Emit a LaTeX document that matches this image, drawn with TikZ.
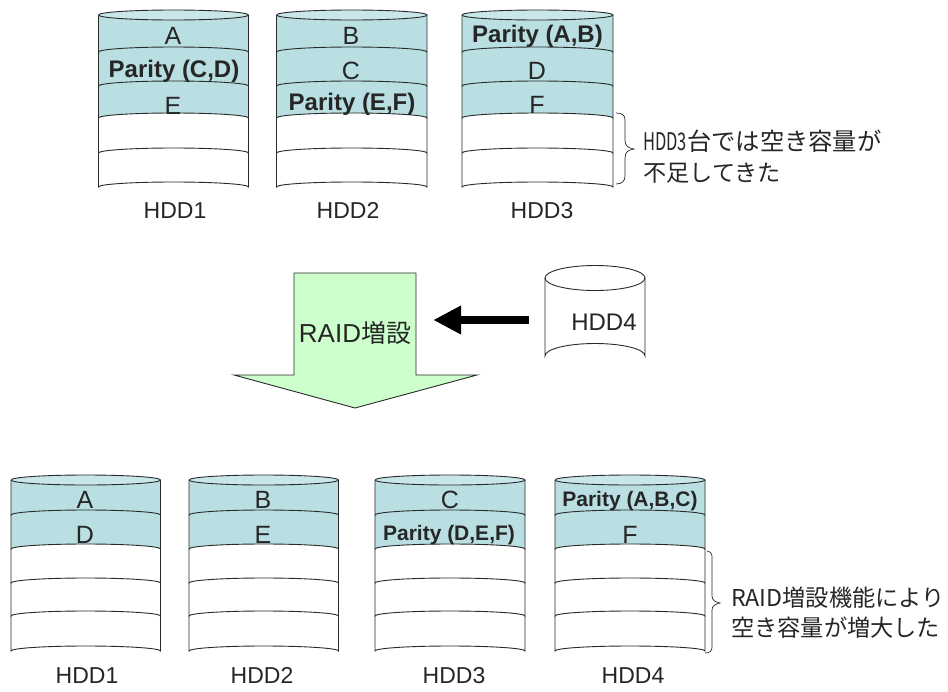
\documentclass[tikz,border=0pt]{standalone}
\usepackage{fontspec}
\setmainfont{Liberation Sans}
\newfontfamily\cjk{Noto Sans CJK JP}
\usetikzlibrary{arrows.meta}
\definecolor{teal1}{HTML}{B9DFE3}
\definecolor{teal2}{HTML}{C9E7EA}
\definecolor{mint}{HTML}{CCFFCC}
\definecolor{edge}{HTML}{2A2A2A}
\newcommand{\fsz}[1]{\fontsize{#1}{#1}\selectfont}
\newcommand{\narrowlat}[2]{\scalebox{#1}[1]{#2}}
% left x, width, top y, number of coloured bands, list of band bottoms
\newcommand{\hddstack}[5]{%
  \pgfmathsetmacro{\rx}{#2/2}
  \fill[white] (#1,#3) rectangle (#1+#2,657);
  \foreach \yb [count=\i] in {#5} {
    \ifnum\i=#4\relax
      \fill[teal1] (#1,#3) -- (#1,\yb) arc[start angle=180,end angle=360,x radius=\rx,y radius=5] -- (#1+#2,#3) -- cycle;
    \fi
  }
  \draw[hddline,fill=teal2] (#1,#3) arc[start angle=180,end angle=-180,x radius=\rx,y radius=5];
  \foreach \yb [remember=\yb as \last (initially #3)] in {#5} {
    \draw[hddline] (#1,\last) -- (#1,\yb) arc[start angle=180,end angle=360,x radius=\rx,y radius=5] -- (#1+#2,\last);
  }
}
\tikzset{
  hddline/.style={draw=edge,line width=0.9pt},
  big/.style={font=\fsz{25},inner sep=0pt,text=black!85},
  par/.style={font=\fsz{21}\bfseries,inner sep=0pt,text=black!85},
  bigpar/.style={font=\fsz{24}\bfseries,inner sep=0pt,text=black!85},
  lab/.style={font=\fsz{23},inner sep=0pt,text=black!85,anchor=base},
  note/.style={font=\cjk\fsz{23.2},inner sep=0pt,anchor=west,text=black!85},
  bracel/.style={draw=edge,line width=0.7pt}
}
\begin{document}
\begin{tikzpicture}[x=1pt,y=-1pt]
\useasboundingbox (0,0) rectangle (948,691);
\fill[white] (0,0) rectangle (948,691);
% top row
\hddstack{98.5}{150}{15}{3}{52,86,118,153,187}
\hddstack{276.5}{150.5}{15}{3}{52,86,118,153,187}
\hddstack{462}{151}{15}{3}{52,86,118,153,187}
\node[big] (a1) at (173,36) {A};
\node[bigpar] (p1) at (174,71) {Parity (C,D)};
\node[big] (e1) at (173,106) {E};
\node[big] (b1) at (351,36) {B};
\node[big] (c1) at (351,71) {C};
\node[bigpar] (p2) at (352,104) {Parity (E,F)};
\node[bigpar] (p3) at (537.5,36) {Parity (A,B)};
\node[big] (d1) at (537,71) {D};
\node[big] (f1) at (537,105) {F};
\node[lab] (h1) at (175,218.5) {HDD1};
\node[lab] (h2) at (348,218.5) {HDD2};
\node[lab] (h3) at (542,218.5) {HDD3};
% brace top
\draw[bracel] (616,113) .. controls (622,113) and (625,115) .. (625,120) -- (625,140)
  .. controls (625,146) and (628,148) .. (634,149) .. controls (628,150) and (625,152) .. (625,158)
  -- (625,176) .. controls (625,181) and (622,184) .. (616,184);
\node[note,font=\cjk\fsz{24.3}] (n1) at (643,141) {\narrowlat{0.68}{HDD3}台では空き容量が};
\node[note] (n2) at (643,173) {不足してきた};
% block arrow
\fill[mint] (294,273) -- (416,273) -- (416,375) -- (477,375) -- (355,408) -- (234,375) -- (294,375) -- cycle;
\draw[hddline] (294,375) -- (294,273) -- (416,273) -- (416,375) -- (477,375) -- (355,408) -- (234,375) -- cycle;
\node[minimum width=122pt,minimum height=102pt,inner sep=0pt] (raid) at (355,324) {};
\node[font=\fsz{26},inner sep=0pt,text=black!85] (raidt) at (355,333) {RAID{\cjk\fsz{25}増設}};
% HDD4 loose
\draw[hddline,fill=white] (545,278) arc[start angle=180,end angle=-180,x radius=50,y radius=12.5];
\draw[hddline] (545,278) -- (545,356) arc[start angle=180,end angle=360,x radius=50,y radius=12.5] -- (645,278);
\node[minimum width=100pt,minimum height=78pt,inner sep=0pt] (hdd4) at (595,317) {};
\node[font=\fsz{24},inner sep=0pt,text=black!85] (hdd4t) at (604,322) {HDD4};
\draw[-{Triangle[length=28pt,width=27pt]},line width=8pt,black,shorten >=17pt,shorten <=16pt] (hdd4.west |- 0,320) -- (raid.east |- 0,320);
% bottom row
\hddstack{11}{149.5}{480}{2}{515,549,583,616,651}
\hddstack{189}{149.5}{480}{2}{515,549,583,616,651}
\hddstack{375}{150}{480}{2}{515,549,583,616,651}
\hddstack{555}{150}{480}{2}{515,549,583,616,651}
\node[big] (a2) at (85,500) {A};
\node[big] (d2) at (85,535) {D};
\node[big] (b2) at (263,500) {B};
\node[big] (e2) at (263,535) {E};
\node[big] (c2) at (450,500) {C};
\node[par] (p4) at (449,535) {Parity (D,E,F)};
\node[par] (p5) at (630,501) {Parity (A,B,C)};
\node[big] (f2) at (630,535) {F};
\node[lab] (h21) at (87,683) {HDD1};
\node[lab] (h22) at (262,683) {HDD2};
\node[lab] (h23) at (454,683) {HDD3};
\node[lab] (h24) at (633,683) {HDD4};
% brace bottom
\draw[bracel] (707,551) .. controls (710,551) and (712,553) .. (712,556) -- (712,596)
  .. controls (712,600) and (715,602) .. (720,603) .. controls (715,604) and (712,606) .. (712,610)
  -- (712,647) .. controls (712,651) and (710,653) .. (705,653);
\node[note] (n3) at (731,598) {\narrowlat{1.0}{RAID}増設機能により};
\node[note] (n4) at (731,628) {空き容量が増大した};
\end{tikzpicture}
\end{document}
